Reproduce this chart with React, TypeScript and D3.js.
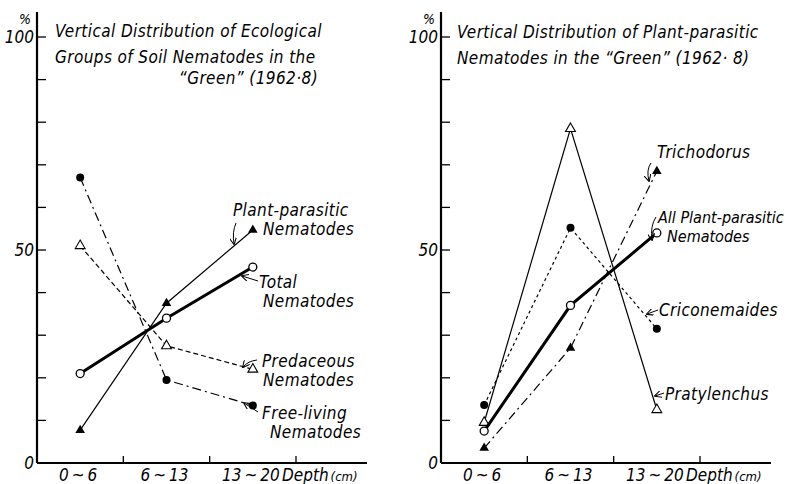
import React from 'react';
import * as d3 from 'd3';

// depth classes on the x axis
const depths = ['0~6', '6~13', '13~20'];
const yTicks = [0, 10, 20, 30, 40, 50, 60, 70, 80, 90, 100];
const yLabels = [0, 50, 100];

// left panel: ecological groups (% of each group in each layer)
const freeLiving = [67, 19.5, 13.5];
const predaceous = [51, 27.5, 22];
const totalNematodes = [21, 34, 46];
const plantParasitic = [7.7, 37.5, 54.7];

// right panel: plant-parasitic genera
const pratylenchus = [9.5, 78.5, 12.5];
const criconemaides = [13.6, 55.2, 31.5];
const allPlantParasitic = [7.5, 37, 54];
const trichodorus = [3.5, 27, 68.5];

const FONT = "'DejaVu Sans Condensed', 'DejaVu Sans', sans-serif";

type Series = { values: number[]; marker: string; width: number; dash?: string };

const leftSeries: Series[] = [
  { values: freeLiving, marker: 'filledCircle', width: 1.2, dash: '9,4,2,4' },
  { values: predaceous, marker: 'openTriangle', width: 1.2, dash: '5,3' },
  { values: plantParasitic, marker: 'filledTriangle', width: 1.2 },
  { values: totalNematodes, marker: 'openCircle', width: 3 },
];

const rightSeries: Series[] = [
  { values: pratylenchus, marker: 'openTriangle', width: 1.2 },
  { values: criconemaides, marker: 'filledCircle', width: 1.2, dash: '3,3' },
  { values: trichodorus, marker: 'filledTriangle', width: 1.2, dash: '9,4,2,4' },
  { values: allPlantParasitic, marker: 'openCircle', width: 3 },
];

const Marker = ({ kind, x, y }: { kind: string; x: number; y: number }) => {
  if (kind === 'filledCircle') return <circle cx={x} cy={y} r={4} fill="#000" />;
  if (kind === 'openCircle') return <circle cx={x} cy={y} r={4} fill="#fff" stroke="#000" strokeWidth={1.3} />;
  const tri = d3.symbol().type(d3.symbolTriangle).size(kind === 'filledTriangle' ? 40 : 42)();
  return kind === 'filledTriangle'
    ? <path d={tri || ''} transform={`translate(${x},${y})`} fill="#000" />
    : <path d={tri || ''} transform={`translate(${x},${y})`} fill="#fff" stroke="#000" strokeWidth={1.1} />;
};

type Note = { lines: string[]; dx: number[]; x: number; y: number; arrow: string; size?: number };

const Panel = ({ x0, series, title, notes }: { x0: number; series: Series[]; title: { text: string; x: number; y: number; anchor?: string }[]; notes: Note[] }) => {
  const x = d3.scaleBand().domain(depths).range([x0, x0 + 259]);
  const y = d3.scaleLinear().domain([0, 100]).range([463, 37]);
  const cx = (d: string) => (x(d) || 0) + x.bandwidth() / 2;
  const line = d3.line<number>().x((_, i) => cx(depths[i])).y((v) => y(v));

  return (
    <g>
      {/* axes */}
      <line x1={x0} x2={x0} y1={12} y2={y(0)} stroke="#000" strokeWidth={2.2} />
      <line x1={x0} x2={x0 + 330} y1={y(0)} y2={y(0)} stroke="#000" strokeWidth={2} />
      {yTicks.map((t) => (
        <line key={t} x1={x0} x2={x0 + 9} y1={y(t)} y2={y(t)} stroke="#000" strokeWidth={1.3} />
      ))}
      {yLabels.map((t) => (
        <text key={t} x={x0 - 3} y={y(t) + 6} textAnchor="end" fontSize={17} fontStyle="italic" fontFamily={FONT}>{t}</text>
      ))}
      <text x={x0 - 12} y={24} textAnchor="middle" fontSize={14} fontStyle="italic" fontFamily={FONT}>%</text>
      {depths.map((d) => (
        <line key={d} x1={(x(d) || 0) + x.bandwidth()} x2={(x(d) || 0) + x.bandwidth()} y1={y(0)} y2={y(0) - 7} stroke="#000" strokeWidth={1.3} />
      ))}
      {depths.map((d) => (
        <text key={d} x={cx(d) - 2} y={481} textAnchor="middle" fontSize={17} fontStyle="italic" fontFamily={FONT}>{d.replace('~', '\u2009~\u2009')}</text>
      ))}
      <text x={x0 + 245} y={481} fontSize={17} fontStyle="italic" fontFamily={FONT}>Depth<tspan fontSize={13} dx={2}>(cm)</tspan></text>

      {/* title */}
      {title.map((t, i) => (
        <text key={i} x={t.x} y={t.y} textAnchor={t.anchor || 'start'} fontSize={17} fontStyle="italic" fontFamily={FONT} letterSpacing={0.4}>{t.text}</text>
      ))}

      {/* series */}
      {series.map((s, i) => (
        <g key={i}>
          <path d={line(s.values) || ''} fill="none" stroke="#000" strokeWidth={s.width} strokeDasharray={s.dash} />
          {s.values.map((v, j) => <Marker key={j} kind={s.marker} x={cx(depths[j])} y={y(v)} />)}
        </g>
      ))}

      {/* annotations */}
      {notes.map((n, i) => (
        <g key={i}>
          <path d={n.arrow} fill="none" stroke="#000" strokeWidth={1} markerEnd="url(#arr)" />
          {n.lines.map((l, j) => (
            <text key={j} x={n.x + n.dx[j]} y={n.y + j * 19} fontSize={n.size || 17} fontStyle="italic" fontFamily={FONT} letterSpacing={n.size ? 0 : 0.4}>{l}</text>
          ))}
        </g>
      ))}
    </g>
  );
};

const App = () => {
  return (
    <svg width={790} height={484} style={{ position: 'absolute', left: 0, top: 0, background: '#fff' }}>
      <defs>
        <marker id="arr" viewBox="0 0 10 10" refX={9} refY={5} markerWidth={7} markerHeight={7} orient="auto">
          <path d="M0,0 L10,5 L0,10" fill="none" stroke="#000" strokeWidth={1.5} />
        </marker>
      </defs>
      <Panel
        x0={37}
        series={leftSeries}
        title={[
          { text: 'Vertical Distribution of Ecological', x: 55, y: 37 },
          { text: 'Groups of Soil Nematodes in the', x: 55, y: 63 },
          { text: '\u201CGreen\u201D (1962\u00B78)', x: 318, y: 84, anchor: 'end' },
        ]}
        notes={[
          { lines: ['Plant-parasitic', 'Nematodes'], dx: [0, 30], x: 233, y: 216, arrow: 'M236,223 Q232,232 234,244' },
          { lines: ['Total', 'Nematodes'], dx: [0, 4], x: 259, y: 288, arrow: 'M258,281 L242,276' },
          { lines: ['Predaceous', 'Nematodes'], dx: [0, 1], x: 262, y: 367, arrow: 'M257,360 Q248,361 243,367' },
          { lines: ['Free-living', 'Nematodes'], dx: [0, 8], x: 262, y: 419, arrow: 'M258,412 L244,403' },
        ]}
      />
      <Panel
        x0={441}
        series={rightSeries}
        title={[
          { text: 'Vertical Distribution of Plant-parasitic', x: 457, y: 38 },
          { text: 'Nematodes in the \u201CGreen\u201D (1962\u00B7 8)', x: 457, y: 64 },
        ]}
        notes={[
          { lines: ['Trichodorus'], dx: [0], x: 657, y: 158, arrow: 'M651,163 Q646,170 649,181' },
          { lines: ['All Plant-parasitic', 'Nematodes'], dx: [0, 9], x: 658, y: 223, arrow: 'M656,217 Q650,226 652,240', size: 16 },
          { lines: ['Criconemaides'], dx: [0], x: 659, y: 316, arrow: 'M658,310 L647,314' },
          { lines: ['Pratylenchus'], dx: [0], x: 665, y: 400, arrow: 'M664,393 L655,396' },
        ]}
      />
    </svg>
  );
};

export default App;
